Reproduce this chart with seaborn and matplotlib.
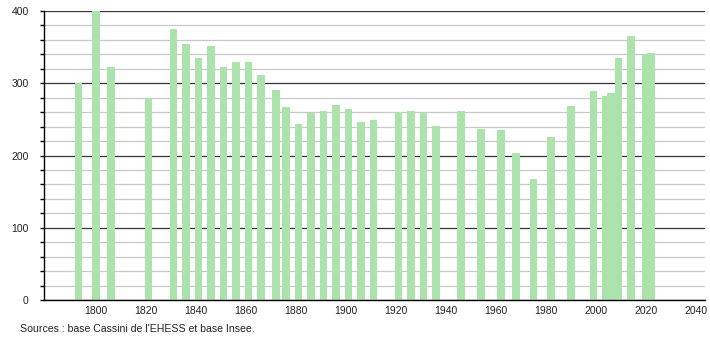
import matplotlib
matplotlib.use("Agg")
import matplotlib.pyplot as plt
import seaborn as sns
import pandas as pd
from matplotlib.ticker import MultipleLocator

years = [1793, 1800, 1806, 1821, 1831, 1836, 1841, 1846, 1851, 1856, 1861, 1866,
         1872, 1876, 1881, 1886, 1891, 1896, 1901, 1906, 1911, 1921, 1926, 1931,
         1936, 1946, 1954, 1962, 1968, 1975, 1982, 1990, 1999, 2004, 2006, 2009,
         2014, 2020, 2022]
population = [300, 400, 323, 279, 375, 355, 335, 351, 322, 330, 329, 312,
              290, 267, 243, 259, 261, 270, 265, 247, 249, 260, 261, 259,
              241, 261, 237, 235, 203, 167, 225, 268, 289, 283, 287, 335,
              365, 340, 342]
x_ticks = [1800, 1820, 1840, 1860, 1880, 1900, 1920, 1940, 1960, 1980, 2000, 2020, 2040]
y_ticks = [0, 100, 200, 300, 400]
source = "Sources : base Cassini de l'EHESS et base Insee."

df = pd.DataFrame({"year": years, "pop": population})

sns.set_style("white")
plt.rcParams["font.family"] = ["Liberation Sans", "DejaVu Sans"]

fig = plt.figure(figsize=(7.1, 3.4), dpi=100)
ax = fig.add_axes([44 / 710, 1 - 300 / 340, (705 - 44) / 710, (300 - 11) / 340])

sns.barplot(data=df, x="year", y="pop", native_scale=True, width=1.6,
            color="#ace3ac", saturation=1, errorbar=None, linewidth=0, ax=ax, zorder=3)

ax.set_xlim(1779.2, 2043.6)
ax.set_ylim(0, 400)
ax.set_xticks(x_ticks)
ax.set_xticklabels([str(t) for t in x_ticks])
ax.set_yticks(y_ticks)
ax.set_yticklabels([str(t) for t in y_ticks])
ax.yaxis.set_minor_locator(MultipleLocator(20))

ax.grid(False)
ax.set_axisbelow(True)
ax.yaxis.grid(True, which="major", color="#333333", linewidth=0.9, zorder=0)
ax.yaxis.grid(True, which="minor", color="#c8c8c8", linewidth=0.9, zorder=0)

for s in ["top", "right"]:
    ax.spines[s].set_visible(False)
for s in ["left", "bottom"]:
    ax.spines[s].set_color("black")
    ax.spines[s].set_linewidth(1.0)
    ax.spines[s].set_zorder(5)

ax.tick_params(axis="x", which="both", length=0, pad=4, labelsize=7.5, colors="#222222")
ax.tick_params(axis="y", which="major", length=3, width=1, pad=8, labelsize=7.5,
               left=True, colors="black", labelcolor="#222222")
ax.tick_params(axis="y", which="minor", length=3, width=1, left=True, colors="black")

ax.set_xlabel("")
ax.set_ylabel("")

fig.text(20 / 710, 1 - 329 / 340, source, fontsize=7.6, color="#222222", va="center", ha="left")

fig.savefig("out.png", dpi=100)
